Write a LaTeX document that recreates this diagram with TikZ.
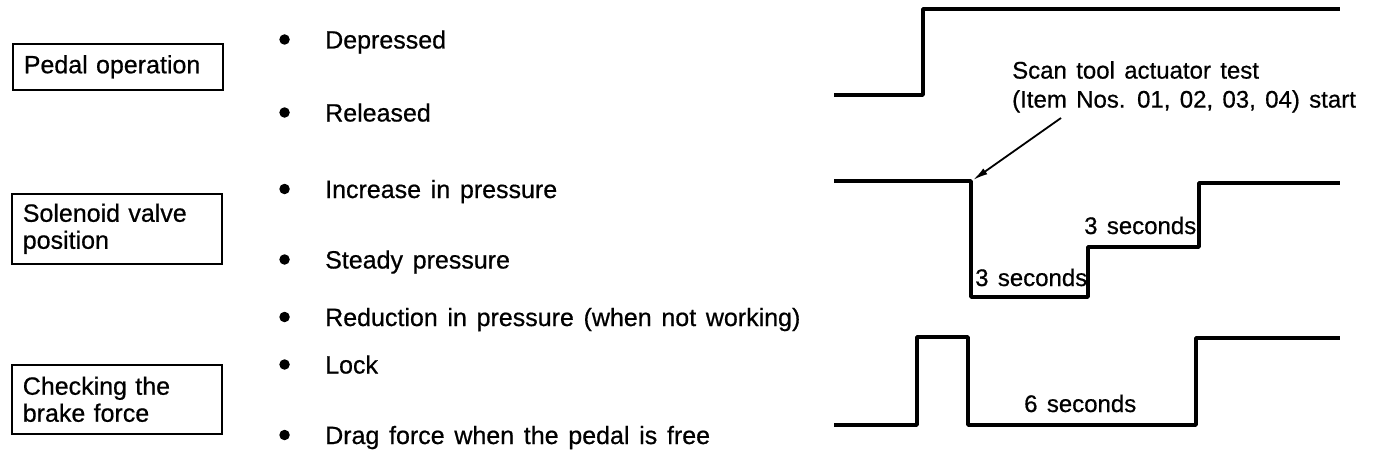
\documentclass[tikz,border=0pt]{standalone}
\usepackage{fontspec}
\setmainfont{Liberation Sans}[WordSpace=1.4, FakeBold=0.6]
\usetikzlibrary{arrows.meta, positioning}

\begin{document}
\begin{tikzpicture}[
    x=1pt, y=-1pt,
    every node/.style={font=\fontsize{25}{27}\selectfont, inner sep=0pt},
    labelbox/.style={draw, line width=1.6pt, anchor=north west,
      inner xsep=11pt, align=left, text width=188pt},
    item/.style={anchor=west, text height=18pt, text depth=0pt},
    dot/.style={circle, fill, minimum size=10.5pt},
    timing/.style={anchor=base west, font=\fontsize{24}{26}\selectfont},
    wave/.style={line width=3.6pt, line join=round},
    pointer/.style={line width=1.8pt, -{Latex[length=15pt, width=7pt]}},
  ]

  \useasboundingbox (0,0) rectangle (1376,460);

  % === Signal boxes ===
  \node[labelbox, minimum height=46pt] (pedal) at (12,43) {Pedal operation};
  \node[labelbox, minimum height=70pt] (valve) at (11,193) {Solenoid valve\\position};
  \node[labelbox, minimum height=69pt] (brake) at (11,364) {Checking the\\brake force};

  % === Signal states ===
  \node[item] (depressed) at (325,39.5) {Depressed};
  \node[item] (released) at (325,112.5) {Released};
  \node[item] (increase) at (325,189) {Increase in pressure};
  \node[item] (steady) at (325,259.5) {Steady pressure};
  \node[item] (reduction) at (325,317) {Reduction in pressure (when not working)};
  \node[item] (lock) at (325,364.5) {Lock};
  \node[item] (drag) at (325,435) {Drag force when the pedal is free};

  \foreach \n in {depressed, released, increase, steady, reduction, lock, drag}
    \node[dot, left=35pt of \n] (\n-dot) {};

  % === Pedal trace ===
  \draw[wave] (834,95) -- (923,95) -- (923,9) -- (1340,9);

  % === Solenoid valve trace ===
  \draw[wave] (834,181) -- (971,181) -- (971,297) -- (1088,297)
    -- (1088,247) -- (1199,247) -- (1199,183) -- (1340,183);
  \node[timing] (down) at (975,286) {3 seconds};
  \node[timing] (hold) at (1084,234) {3 seconds};

  % Actuator test start
  \node[anchor=north west, align=left, font=\fontsize{24}{29}\selectfont]
    (scan) at (1012,61) {Scan tool actuator test\\(Item Nos. 01, 02, 03, 04) start};
  \coordinate (tail) at (1061,118);
  \coordinate (start) at (973,180);
  \draw[pointer] (tail) -- (start);

  % === Brake force trace ===
  \draw[wave] (834,425) -- (917,425) -- (917,337) -- (968,337) -- (968,425)
    -- (1196,425) -- (1196,338) -- (1340,338);
  \node[timing] (free) at (1024,412) {6 seconds};

\end{tikzpicture}
\end{document}
